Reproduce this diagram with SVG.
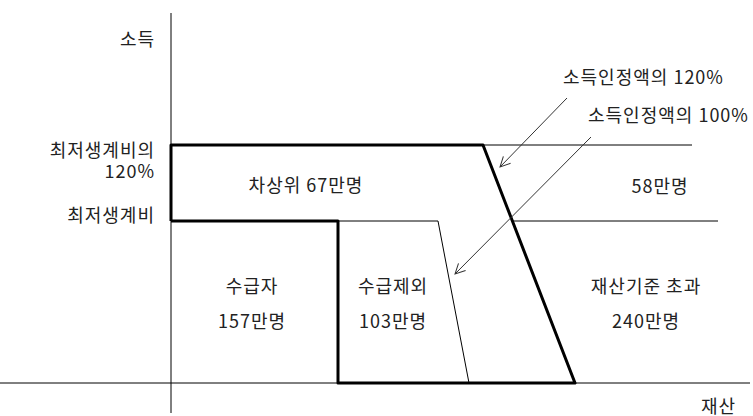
<svg xmlns="http://www.w3.org/2000/svg" width="753" height="416" viewBox="0 0 753 416">
<style>
text{font-family:"Noto Sans CJK KR","Noto Sans",sans-serif;font-size:18px;fill:#222;letter-spacing:1px}
.r{text-anchor:end}.m{text-anchor:middle}
.thin{stroke:#000;stroke-width:1;fill:none}
.thick{stroke:#000;stroke-width:3;fill:none;stroke-linejoin:round}
.arr{stroke:#333;stroke-width:1;fill:none;marker-end:url(#ah)}
</style>
<defs>
<marker id="ah" viewBox="0 0 12 12" refX="11" refY="6" markerWidth="12" markerHeight="12" markerUnits="userSpaceOnUse" orient="auto">
<polyline points="1,1 11,6 1,11" fill="none" stroke="#333" stroke-width="1"/>
</marker>
</defs>
<g id="axes">
<line class="thin" x1="171" y1="13" x2="171" y2="413"/>
<line class="thin" x1="0" y1="383" x2="750" y2="383"/>
</g>
<g id="connectors">
<line class="thin" x1="483" y1="145" x2="692" y2="145"/>
<line class="thin" x1="512" y1="221" x2="718" y2="221"/>
<polyline class="thin" points="338,221 438,221 469,383"/>
<polyline class="thick" points="171,221 171,145 483,145 575,383 338,383 338,221 171,221"/>
<line class="arr" x1="567" y1="98" x2="500" y2="167"/>
<line class="arr" x1="591" y1="137" x2="455" y2="274"/>
</g>
<g id="labels-axis">
<text class="r" x="155" y="46">소득</text>
<text class="r" x="155" y="157">최저생계비의</text>
<text class="r" x="155" y="178">120%</text>
<text class="r" x="155" y="222">최저생계비</text>
<text x="701" y="413">재산</text>
</g>
<g id="node-chasangwi"><text class="m" x="306" y="192">차상위 67만명</text></g>
<g id="node-58"><text class="m" x="660" y="193">58만명</text></g>
<g id="node-sugupja"><text class="m" x="252" y="293">수급자</text><text class="m" x="252" y="328">157만명</text></g>
<g id="node-sugupjeoe"><text class="m" x="393" y="293">수급제외</text><text class="m" x="393" y="328">103만명</text></g>
<g id="node-jaesan"><text class="m" x="646" y="293">재산기준 초과</text><text class="m" x="646" y="328">240만명</text></g>
<g id="label-120"><text x="563" y="84">소득인정액의 120%</text></g>
<g id="label-100"><text x="588" y="122">소득인정액의 100%</text></g>
</svg>
